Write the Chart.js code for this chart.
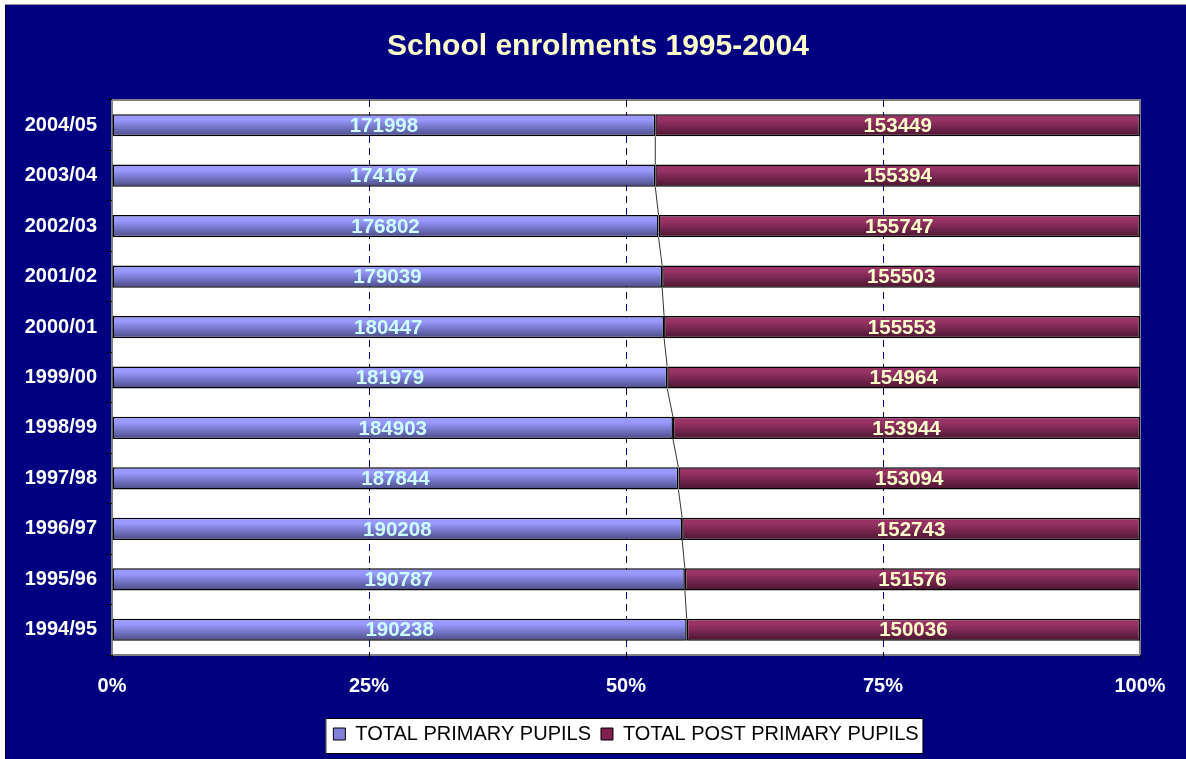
<!DOCTYPE html>
<html>
<head>
<meta charset="utf-8">
<script src="https://cdn.jsdelivr.net/npm/chart.js@4.4.1/dist/chart.umd.min.js"></script>
<style>
  html, body { margin: 0; padding: 0; background: #fff; }
  #wrap { width: 1186px; height: 759px; }
</style>
</head>
<body>
<div id="wrap"><canvas id="chart" width="1186" height="759"></canvas></div>
<script>
// school years, top to bottom as in the picture
const years = ["2004/05", "2003/04", "2002/03", "2001/02", "2000/01", "1999/00",
               "1998/99", "1997/98", "1996/97", "1995/96", "1994/95"];
const primaryPupils = [171998, 174167, 176802, 179039, 180447, 181979,
                       184903, 187844, 190208, 190787, 190238];
const postPrimaryPupils = [153449, 155394, 155747, 155503, 155553, 154964,
                           153944, 153094, 152743, 151576, 150036];
const percentTicks = [0, 25, 50, 75, 100];
const chartTitle = "School enrolments 1995-2004";

// 100% stacked: share of each year's total
const primaryPct = primaryPupils.map((v, i) => v / (v + postPrimaryPupils[i]) * 100);
const postPct = postPrimaryPupils.map((v, i) => v / (v + primaryPupils[i]) * 100);

const NAVY = "#000080";
const BAR_PCT = 0.44;
const FONT = "'Liberation Sans', Arial, sans-serif";

function barGradient(ctx, top, bottom) {
    const chart = ctx.chart;
    const y = chart.scales.y;
    if (!y || ctx.dataIndex === undefined) return top;
    const cy = y.getPixelForValue(ctx.dataIndex);
    const half = (y.height / years.length) * BAR_PCT / 2;
    const g = chart.ctx.createLinearGradient(0, cy - half, 0, cy + half);
    g.addColorStop(0, top);
    g.addColorStop(0.25, top);
    g.addColorStop(1, bottom);
    return g;
}

const backdrop = {
    id: "backdrop",
    beforeDraw(chart) {
        const c = chart.ctx;
        const a = chart.chartArea;
        c.save();
        c.fillStyle = "#fff";
        c.fillRect(0, 0, chart.width, chart.height);
        c.fillStyle = NAVY;
        c.fillRect(6, 5, chart.width - 6, chart.height - 5);
        c.fillStyle = "#999";
        c.fillRect(5, 4, chart.width - 5, 1);
        c.fillStyle = "#000";
        c.fillRect(5, 5, 1, chart.height - 5);
        // title
        c.fillStyle = "#ffffcc";
        c.font = "bold 30px " + FONT;
        c.textAlign = "center";
        c.textBaseline = "middle";
        c.fillText(chartTitle, 598, 47);
        // plot area
        c.fillStyle = "#fff";
        c.fillRect(a.left, a.top, a.right - a.left, a.bottom - a.top);
        c.strokeStyle = "#808080";
        c.lineWidth = 2;
        c.strokeRect(a.left, a.top, a.right - a.left, a.bottom - a.top);
        // legend box
        const hb = chart.legend.legendHitBoxes;
        if (hb && hb.length) {
            const l = Math.min(...hb.map(b => b.left)) - 8;
            const r = Math.max(...hb.map(b => b.left + b.width)) + 4;
            const t = chart.legend.top + 4;
            const b = chart.legend.bottom;
            c.fillStyle = "#fff";
            c.fillRect(l, t, r - l, b - t);
            c.strokeStyle = "#000";
            c.lineWidth = 1;
            c.strokeRect(l + 0.5, t + 0.5, r - l, b - t - 1);
        }
        c.restore();
    }
};

const seriesLines = {
    id: "seriesLines",
    afterDatasetsDraw(chart) {
        const c = chart.ctx;
        const bars = chart.getDatasetMeta(0).data;
        c.save();
        c.strokeStyle = "#333";
        c.lineWidth = 1;
        for (let i = 0; i < bars.length - 1; i++) {
            const a = bars[i], b = bars[i + 1];
            c.beginPath();
            c.moveTo(a.x, a.y + a.height / 2);
            c.lineTo(b.x, b.y - b.height / 2);
            c.stroke();
        }
        // value labels
        c.font = "bold 20.5px " + FONT;
        c.textAlign = "center";
        c.textBaseline = "middle";
        const sets = [[primaryPupils, "#ccffff"], [postPrimaryPupils, "#ffffcc"]];
        sets.forEach((s, d) => {
            chart.getDatasetMeta(d).data.forEach((el, i) => {
                c.fillStyle = s[1];
                c.fillText(String(s[0][i]), (el.x + el.base) / 2, el.y + 1);
            });
        });
        c.restore();
    }
};

new Chart(document.getElementById("chart"), {
    type: "bar",
    data: {
        labels: years,
        datasets: [{
            label: "TOTAL PRIMARY PUPILS",
            data: primaryPct,
            backgroundColor: ctx => barGradient(ctx, "#9999ff", "#4a4a85"),
            borderColor: "#000",
            borderWidth: 1.5,
            borderSkipped: false,
            barPercentage: BAR_PCT,
            categoryPercentage: 1
        }, {
            label: "TOTAL POST PRIMARY PUPILS",
            data: postPct,
            backgroundColor: ctx => barGradient(ctx, "#993366", "#4a1530"),
            borderColor: "#000",
            borderWidth: 1.5,
            borderSkipped: false,
            barPercentage: BAR_PCT,
            categoryPercentage: 1
        }]
    },
    options: {
        indexAxis: "y",
        responsive: false,
        animation: false,
        layout: { padding: { left: 0, right: 46, top: 100, bottom: 5 } },
        plugins: {
            tooltip: { enabled: false },
            title: { display: false },
            legend: {
                position: "bottom",
                align: "center",
                fullSize: false,
                labels: {
                    color: "#000",
                    font: { family: FONT, size: 20 },
                    boxWidth: 12,
                    boxHeight: 12,
                    padding: 10,
                    generateLabels: () => [
                        { text: "TOTAL PRIMARY PUPILS", fillStyle: "#8080d8", strokeStyle: "#000", lineWidth: 1, datasetIndex: 0 },
                        { text: "TOTAL POST PRIMARY PUPILS", fillStyle: "#802050", strokeStyle: "#000", lineWidth: 1, datasetIndex: 1 }
                    ]
                }
            }
        },
        scales: {
            x: {
                stacked: true,
                min: 0,
                max: 100,
                afterBuildTicks: s => { s.ticks = percentTicks.map(v => ({ value: v })); },
                afterFit: s => { s.height = 59; },
                ticks: {
                    color: "#fff",
                    padding: 14,
                    font: { family: FONT, size: 20, weight: "bold" },
                    callback: v => v + "%"
                },
                grid: {
                    color: c => (c.tick && (c.tick.value === 0 || c.tick.value === 100)) ? "rgba(0,0,0,0)" : NAVY,
                    tickColor: "#000",
                    tickLength: 5,
                    lineWidth: 1
                },
                border: { display: false, dash: [7, 5] }
            },
            y: {
                stacked: true,
                afterFit: s => { s.width = 112; },
                ticks: {
                    color: "#fff",
                    padding: 10,
                    font: { family: FONT, size: 20, weight: "bold" }
                },
                grid: {
                    drawOnChartArea: false,
                    tickColor: "#000",
                    tickLength: 5,
                    offset: true
                },
                border: { display: false }
            }
        }
    },
    plugins: [backdrop, seriesLines]
});
</script>
</body>
</html>
